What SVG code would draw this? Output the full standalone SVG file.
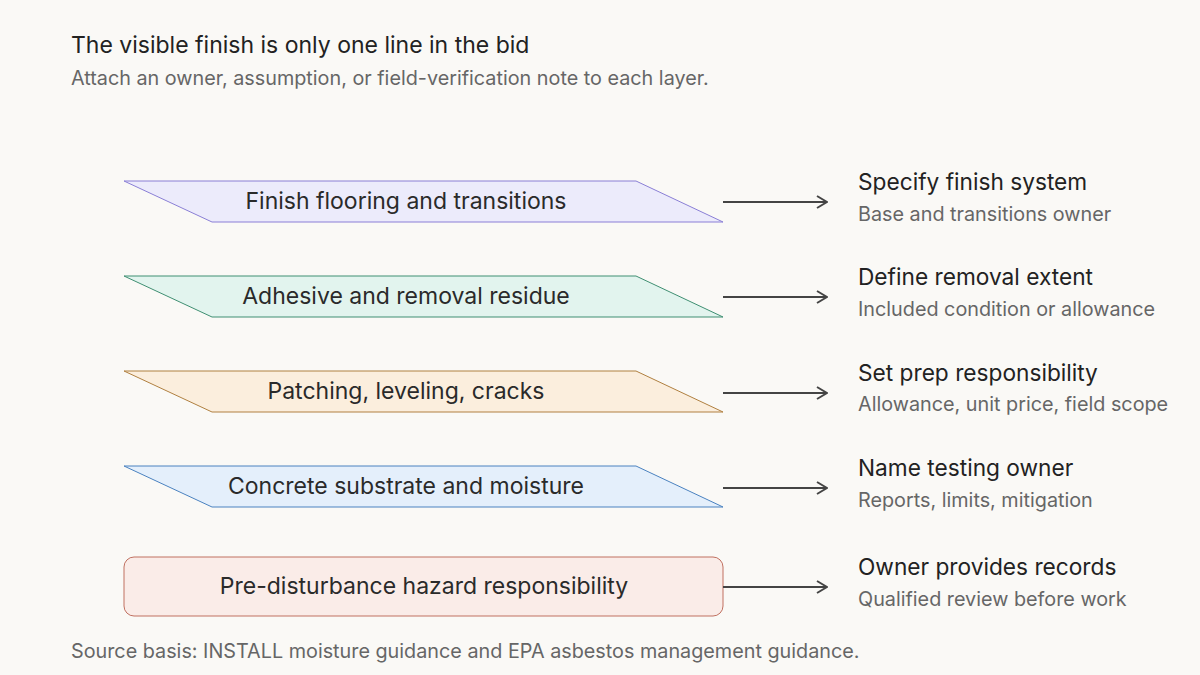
<svg xmlns="http://www.w3.org/2000/svg" width="1200" height="675" viewBox="0 0 1200 675">
<defs>
<style>
text{font-family:Inter,"Liberation Sans",Arial,sans-serif}
.h{font-size:22.7px;fill:#222}
.s{font-size:19.8px;fill:#666}
.n{font-size:23px;fill:#2a2a2a;text-anchor:middle}
.c{stroke:#444;stroke-width:2.2;fill:none}
</style>
<marker id="a" viewBox="0 0 12 14" refX="11" refY="7" markerWidth="12" markerHeight="14" markerUnits="userSpaceOnUse" orient="auto"><path d="M1,1 L11,7 L1,13" fill="none" stroke="#444" stroke-width="2"/></marker>
</defs>
<rect width="1200" height="675" fill="#faf9f6"/>
<text x="71" y="53" style="font-size:23px;fill:#222">The visible finish is only one line in the bid</text>
<text x="71" y="85" class="s">Attach an owner, assumption, or field-verification note to each layer.</text>
<g id="n1"><polygon points="124,181 636,181 723,222 212,222" fill="#ecebfb" stroke="#8a7fd6"/><text x="406" y="209" class="n">Finish flooring and transitions</text></g>
<g id="n2"><polygon points="124,276 636,276 723,317 212,317" fill="#e2f4ee" stroke="#3f8f72"/><text x="406" y="304" class="n">Adhesive and removal residue</text></g>
<g id="n3"><polygon points="124,371 636,371 723,412 212,412" fill="#fbeedd" stroke="#b08040"/><text x="406" y="399" class="n">Patching, leveling, cracks</text></g>
<g id="n4"><polygon points="124,466 636,466 723,507 212,507" fill="#e4effb" stroke="#4a82c0"/><text x="406" y="494" class="n">Concrete substrate and moisture</text></g>
<g id="n5"><rect x="124" y="557" width="599" height="59" rx="10" fill="#faece8" stroke="#c07060"/><text x="424" y="594" class="n">Pre-disturbance hazard responsibility</text></g>
<g id="connectors">
<line x1="723" y1="202" x2="827" y2="202" class="c" marker-end="url(#a)"/>
<line x1="723" y1="297" x2="827" y2="297" class="c" marker-end="url(#a)"/>
<line x1="723" y1="393" x2="827" y2="393" class="c" marker-end="url(#a)"/>
<line x1="723" y1="488" x2="827" y2="488" class="c" marker-end="url(#a)"/>
<line x1="723" y1="587" x2="827" y2="587" class="c" marker-end="url(#a)"/>
</g>
<g id="labels">
<text x="858" y="190" class="h">Specify finish system</text><text x="858" y="221" class="s">Base and transitions owner</text>
<text x="858" y="285" class="h">Define removal extent</text><text x="858" y="316" class="s">Included condition or allowance</text>
<text x="858" y="381" class="h">Set prep responsibility</text><text x="858" y="411" class="s">Allowance, unit price, field scope</text>
<text x="858" y="476" class="h">Name testing owner</text><text x="858" y="507" class="s">Reports, limits, mitigation</text>
<text x="858" y="575" class="h">Owner provides records</text><text x="858" y="606" class="s">Qualified review before work</text>
</g>
<text x="71" y="658" class="s">Source basis: INSTALL moisture guidance and EPA asbestos management guidance.</text>
</svg>
